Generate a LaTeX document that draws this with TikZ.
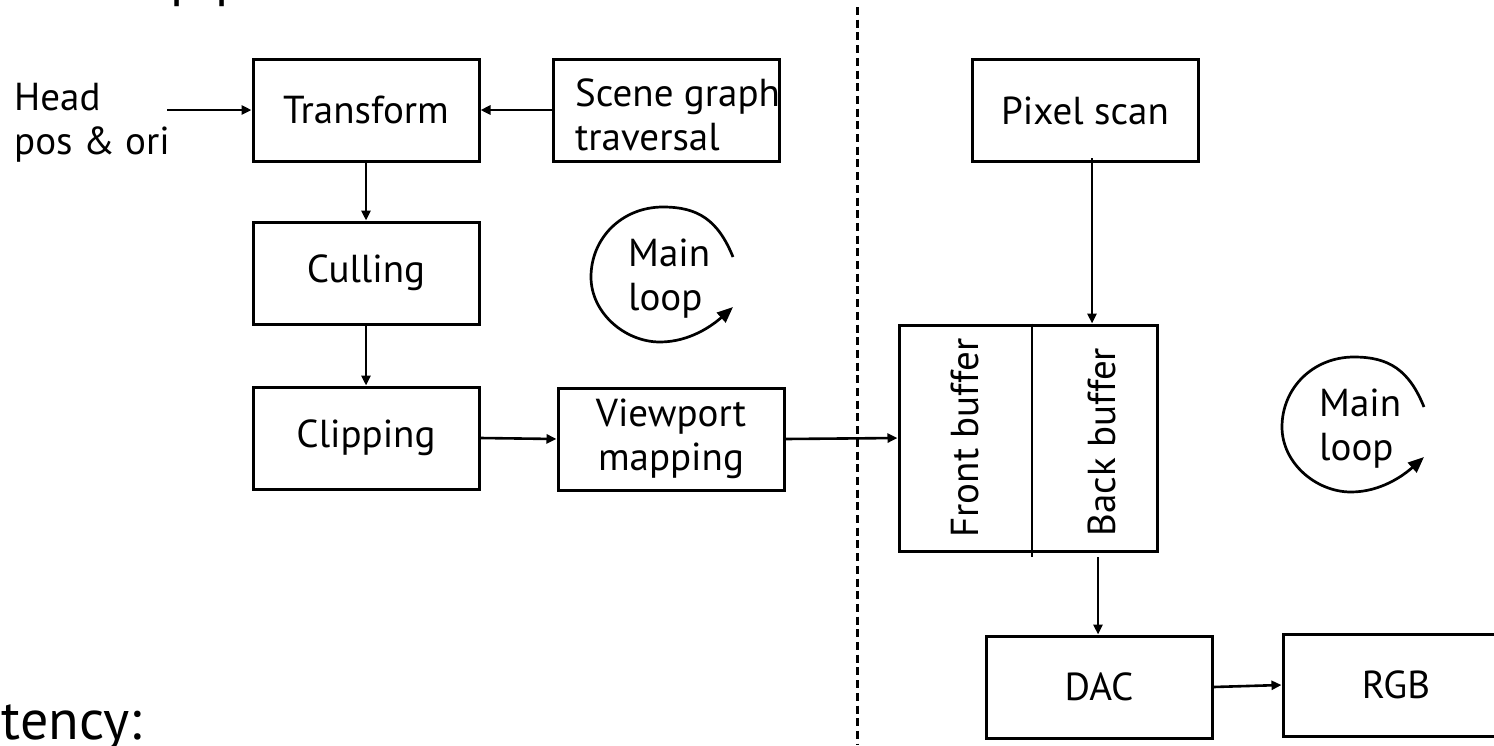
\documentclass[tikz,border=0pt]{standalone}
\usepackage{fontspec}
\setmainfont{PT Sans}
\usetikzlibrary{arrows.meta}
\begin{document}
\begin{tikzpicture}[x=1pt,y=-1pt,
  every node/.style={inner sep=0pt, font=\fontsize{39}{44}\selectfont},
  blk/.style={draw, line width=3pt, minimum width=226pt, minimum height=102pt, align=center},
  flow/.style={line width=2.6pt, -{Triangle[length=10pt,width=9pt]}},
  loopline/.style={line width=2.7pt, -{Triangle[length=16pt,width=13pt]}},
  divide/.style={line width=2.8pt, dash pattern=on 8pt off 4.7pt},
  big/.style={font=\fontsize{56}{64}\selectfont}]
\useasboundingbox (0,0) rectangle (1494,745);

% title and caption text running off the page
\node[big, anchor=base west] (title) at (170,-4.5) {pipeline};
\node[big, anchor=base west] (lat) at (1.5,739) {tency:};

% left half: geometry stages
\node[anchor=west, align=left] (head) at (14,123) {Head\\pos \& ori};
\node[blk] (tr) at (366,110) {Transform};
\node[blk] (sg) at (666,110) {};
\node[anchor=west, align=left] (sgt) at (575,115) {Scene graph\\traversal};
\node[blk] (cu) at (366,273) {Culling};
\node[blk] (cl) at (366,438) {Clipping};
\node[blk] (vp) at (671,439) {Viewport\\mapping};

\coordinate (hs) at (167,110);
\draw[flow] (hs) -- (tr.west);
\draw[flow] (sg.west) -- (tr.east);
\draw[flow] (tr.south) -- (cu.north);
\draw[flow] (cu.south) -- (cl.north);
\draw[flow] (cl.east) -- (vp.west);

% boundary between the two loops
\coordinate (dtop) at (857.5,7);
\coordinate (dbot) at (857.5,745);
\draw[divide] (dtop) -- (dbot);

% right half: frame buffer and display
\node[blk] (ps) at (1085,110.5) {Pixel scan};
\node[draw, line width=3pt, minimum width=258pt, minimum height=226pt] (fb) at (1028,438) {};
\coordinate (dv) at (1032,557);
\draw[line width=2.6pt] (fb.north -| dv) -- (dv);
\node[rotate=90] (ft) at (965,438) {Front buffer};
\node[rotate=90] (bt) at (1102,442) {Back buffer};
\node[blk] (dac) at (1099,687) {DAC};
\node[blk] (rgb) at (1396,685) {RGB};

\draw[flow] (vp.east) -- (fb.west);
\coordinate (psx) at (1092,158);
\draw[flow] (psx) -- (psx |- fb.north);
\coordinate (bbx) at (1098,557);
\draw[flow] (bbx) -- (bbx |- dac.north);
\draw[flow] (dac.east) -- (rgb.west);

% main loop markers
\node[anchor=west, align=left] (ml1) at (628,279) {Main\\loop};
\draw[loopline] (733,257) .. controls (718,220) and (698,207) .. (663,207)
  .. controls (622,207) and (591,238) .. (591,277)
  .. controls (591,313) and (625,342) .. (660,342)
  .. controls (690,342) and (713,325) .. (733,307);
\node[anchor=west, align=left] (ml2) at (1319,429) {Main\\loop};
\begin{scope}[shift={(691,150)}]
\draw[loopline] (733,257) .. controls (718,220) and (698,207) .. (663,207)
  .. controls (622,207) and (591,238) .. (591,277)
  .. controls (591,313) and (625,342) .. (660,342)
  .. controls (690,342) and (713,325) .. (733,307);
\end{scope}
\end{tikzpicture}
\end{document}
